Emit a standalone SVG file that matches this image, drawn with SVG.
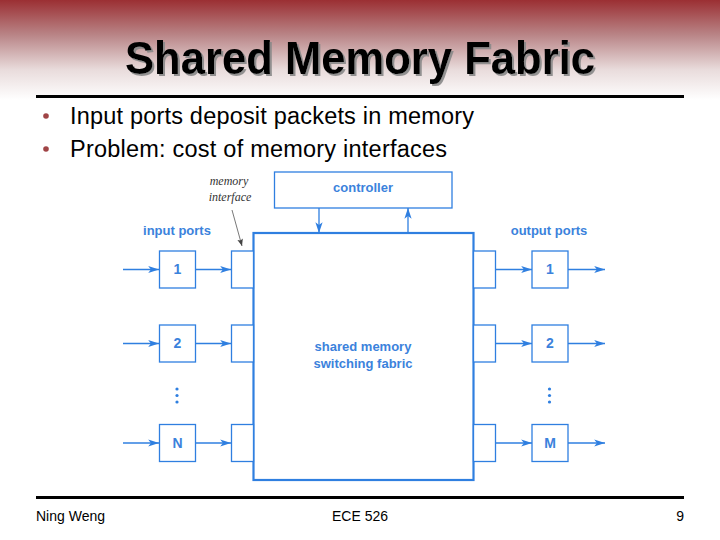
<svg xmlns="http://www.w3.org/2000/svg" width="720" height="540" viewBox="0 0 720 540">
<defs>
<linearGradient id="bg" x1="0" y1="0" x2="0" y2="1">
<stop offset="0" stop-color="#9b2f33"/>
<stop offset="0.35" stop-color="#b98587"/>
<stop offset="0.7" stop-color="#e9dcdc"/>
<stop offset="1" stop-color="#ffffff"/>
</linearGradient>
<filter id="sh" x="-5%" y="-20%" width="110%" height="140%">
<feDropShadow dx="2" dy="2" stdDeviation="0.6" flood-color="#888" flood-opacity="0.9"/>
</filter>
<marker id="ah" viewBox="0 0 12 10" refX="12" refY="5" markerWidth="12" markerHeight="9" markerUnits="userSpaceOnUse" orient="auto">
<path d="M0,1 L12,5 L0,9 L3,5 Z" fill="#2f7fe0"/>
</marker>
<marker id="ag" viewBox="0 0 10 10" refX="10" refY="5" markerWidth="9" markerHeight="7" markerUnits="userSpaceOnUse" orient="auto">
<path d="M0,1 L10,5 L0,9 L2,5 Z" fill="#444"/>
</marker>
</defs>
<style>
.box{fill:#fff;stroke:#2f7fe0;stroke-width:1.3}
.big{fill:#fff;stroke:#2f7fe0;stroke-width:2.2}
.ln{stroke:#2f7fe0;stroke-width:1.3;fill:none}
.bl{font-family:"Liberation Sans",Arial,sans-serif;font-weight:bold;fill:#3b82dc;font-size:13px}
.num{font-family:"Liberation Sans",Arial,sans-serif;font-weight:bold;fill:#3b82dc;font-size:14px;text-anchor:middle}
.it{font-family:"Liberation Serif","Times New Roman",serif;font-style:italic;fill:#333;font-size:12px;text-anchor:middle}
.bul{font-family:"Liberation Sans",Arial,sans-serif;font-size:23.5px;fill:#000}
.ft{font-family:"Liberation Sans",Arial,sans-serif;font-size:14px;fill:#000}
.dot{fill:#2f7fe0}
</style>
<rect x="0" y="0" width="720" height="100" fill="url(#bg)"/>
<rect x="0" y="100" width="720" height="440" fill="#fff"/>
<text x="360" y="74" font-family="Liberation Sans,Arial,sans-serif" font-weight="bold" font-size="46" text-anchor="middle" fill="#000" textLength="470" lengthAdjust="spacingAndGlyphs" filter="url(#sh)">Shared Memory Fabric</text>
<rect x="36" y="95" width="648" height="3" fill="#000"/>
<circle cx="46" cy="116" r="2.8" fill="#a04446"/>
<circle cx="46" cy="149" r="2.8" fill="#a04446"/>
<text class="bul" x="70" y="124" textLength="404" lengthAdjust="spacing">Input ports deposit packets in memory</text>
<text class="bul" x="70" y="157" textLength="377" lengthAdjust="spacing">Problem: cost of memory interfaces</text>

<g id="connectors">
<line class="ln" x1="123" y1="269.5" x2="159" y2="269.5" marker-end="url(#ah)"/>
<line class="ln" x1="196" y1="269.5" x2="231" y2="269.5" marker-end="url(#ah)"/>
<line class="ln" x1="123" y1="343.5" x2="159" y2="343.5" marker-end="url(#ah)"/>
<line class="ln" x1="196" y1="343.5" x2="231" y2="343.5" marker-end="url(#ah)"/>
<line class="ln" x1="123" y1="443" x2="159" y2="443" marker-end="url(#ah)"/>
<line class="ln" x1="196" y1="443" x2="231" y2="443" marker-end="url(#ah)"/>
<line class="ln" x1="496" y1="269.5" x2="532" y2="269.5" marker-end="url(#ah)"/>
<line class="ln" x1="568" y1="269.5" x2="605" y2="269.5" marker-end="url(#ah)"/>
<line class="ln" x1="496" y1="343.5" x2="532" y2="343.5" marker-end="url(#ah)"/>
<line class="ln" x1="568" y1="343.5" x2="605" y2="343.5" marker-end="url(#ah)"/>
<line class="ln" x1="496" y1="443" x2="532" y2="443" marker-end="url(#ah)"/>
<line class="ln" x1="568" y1="443" x2="605" y2="443" marker-end="url(#ah)"/>
<line class="ln" x1="319" y1="208" x2="319" y2="233" marker-end="url(#ah)"/>
<line class="ln" x1="408" y1="233" x2="408" y2="208" marker-end="url(#ah)"/>
<line x1="232" y1="210" x2="242" y2="246" stroke="#555" stroke-width="0.8" marker-end="url(#ag)"/>
</g>

<g id="controller">
<rect class="box" x="274.5" y="172" width="177.5" height="36"/>
<text class="bl" x="363" y="192" text-anchor="middle">controller</text>
</g>
<g id="fabric">
<rect class="big" x="253.5" y="233" width="220" height="247"/>
<text class="bl" x="363" y="351" text-anchor="middle">shared memory</text>
<text class="bl" x="363" y="368" text-anchor="middle">switching fabric</text>
</g>

<g id="in1"><rect class="box" x="159.5" y="251" width="36" height="37"/><text class="num" x="177.5" y="274">1</text></g>
<g id="in2"><rect class="box" x="159.5" y="325" width="36" height="37"/><text class="num" x="177.5" y="348">2</text></g>
<g id="inN"><rect class="box" x="159.5" y="424.5" width="36" height="37"/><text class="num" x="177.5" y="448">N</text></g>
<g id="if-in1"><rect class="box" x="231.5" y="251" width="22" height="37"/></g>
<g id="if-in2"><rect class="box" x="231.5" y="325" width="22" height="37"/></g>
<g id="if-inN"><rect class="box" x="231.5" y="424.5" width="22" height="37"/></g>
<g id="if-out1"><rect class="box" x="473.5" y="251" width="22" height="37"/></g>
<g id="if-out2"><rect class="box" x="473.5" y="325" width="22" height="37"/></g>
<g id="if-outM"><rect class="box" x="473.5" y="424.5" width="22" height="37"/></g>
<g id="out1"><rect class="box" x="532" y="251" width="36" height="37"/><text class="num" x="550" y="274">1</text></g>
<g id="out2"><rect class="box" x="532" y="325" width="36" height="37"/><text class="num" x="550" y="348">2</text></g>
<g id="outM"><rect class="box" x="532" y="424.5" width="36" height="37"/><text class="num" x="550" y="448">M</text></g>

<g id="dots">
<circle class="dot" cx="177" cy="389" r="1.6"/><circle class="dot" cx="177" cy="395.5" r="1.6"/><circle class="dot" cx="177" cy="402" r="1.6"/>
<circle class="dot" cx="549.5" cy="389" r="1.6"/><circle class="dot" cx="549.5" cy="395.5" r="1.6"/><circle class="dot" cx="549.5" cy="402" r="1.6"/>
</g>

<g id="labels">
<text class="bl" x="177" y="235" text-anchor="middle">input ports</text>
<text class="bl" x="549" y="235" text-anchor="middle">output ports</text>
<text class="it" x="229" y="185">memory</text>
<text class="it" x="230" y="201">interface</text>
</g>

<rect x="36" y="496" width="648" height="3" fill="#000"/>
<text class="ft" x="36" y="521">Ning Weng</text>
<text class="ft" x="360" y="521" text-anchor="end" dx="28">ECE 526</text>
<text class="ft" x="684" y="521" text-anchor="end">9</text>
</svg>
